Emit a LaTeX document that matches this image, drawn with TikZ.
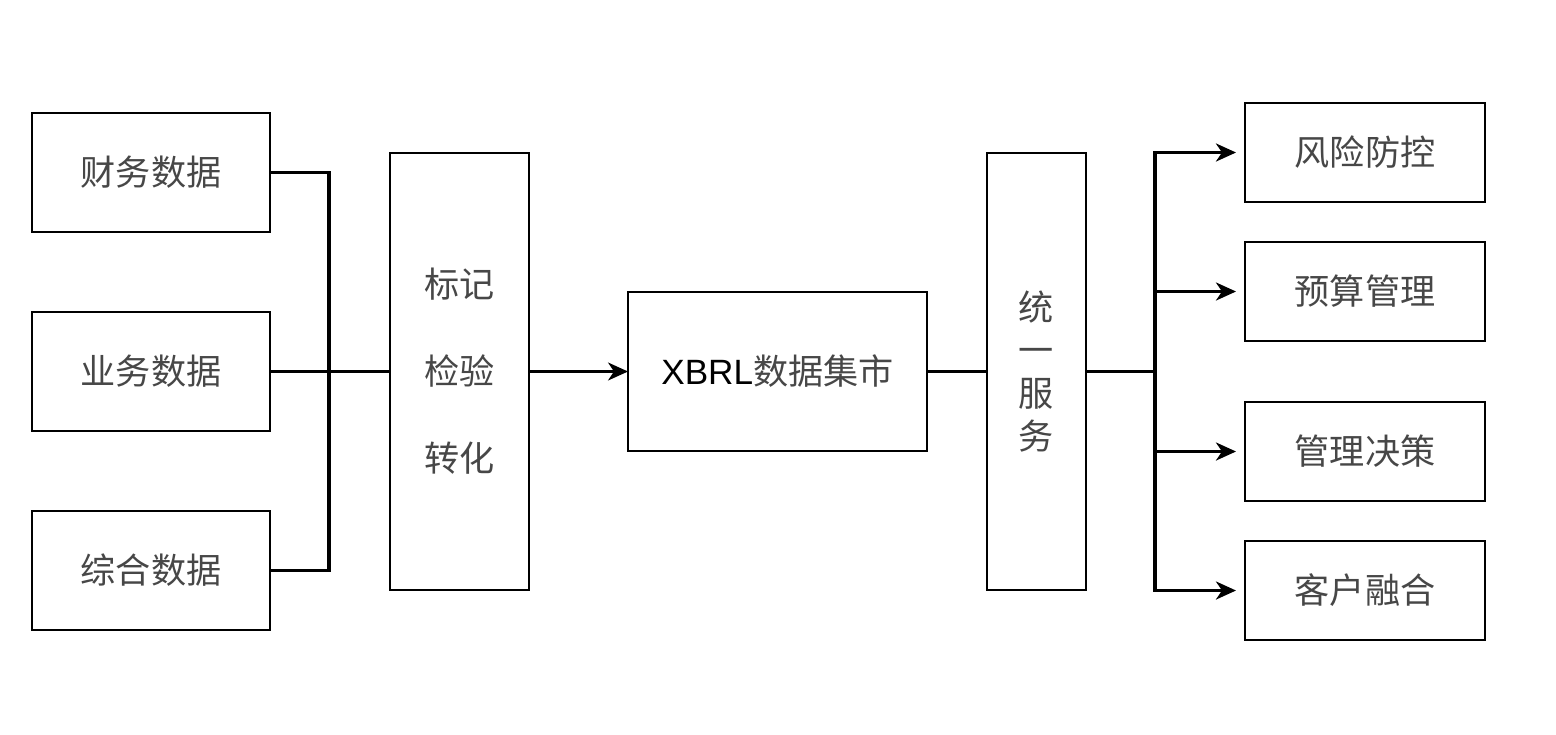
\documentclass[tikz,border=0pt]{standalone}
\usepackage{fontspec}
\setmainfont{Liberation Sans}
\newfontfamily\cjk{Noto Sans CJK SC}
\usetikzlibrary{arrows.meta,positioning}

\tikzset{
  datbox/.style={draw,line width=1.2pt,inner sep=0pt,outer sep=0pt,text=black!72,
    font=\cjk\fontsize{20}{24}\selectfont},
  srcbox/.style={datbox,minimum width=4.76cm,minimum height=2.38cm},
  appbox/.style={datbox,minimum width=4.8cm,minimum height=1.98cm},
  tallbox/.style={datbox,align=center,minimum height=8.74cm},
  thinline/.style={line width=1.2pt},
  thickline/.style={line width=1.8pt},
}

\begin{document}
\begin{tikzpicture}[>={Stealth[length=0.4cm,width=0.36cm,inset=0.12cm]},node distance=1.6cm]
\useasboundingbox (0,0) rectangle (31.12,-14.68);

% data sources
\node[srcbox] (cw) at (3.02,-3.45) {财务数据};
\node[srcbox] (yw) [below=of cw] {业务数据};
\node[srcbox] (zh) [below=of yw] {综合数据};

% processing
\node[tallbox,minimum width=2.78cm,font=\cjk\fontsize{20}{49.5}\selectfont]
  (bj) [right=2.4cm of yw] {标记\\检验\\转化};
\node[datbox,minimum width=5.98cm,minimum height=3.18cm]
  (xb) [right=1.98cm of bj] {\textcolor{black}{\rmfamily XBRL}数据集市};
\node[tallbox,minimum width=1.98cm,font=\cjk\fontsize{20}{24.5}\selectfont]
  (fw) [right=1.2cm of xb] {统\\一\\服\\务};

% applications
\node[appbox] (ys) [right=3.18cm of fw,yshift=1.6cm]  {预算管理};
\node[appbox] (fx) [above=0.8cm of ys] {风险防控};
\node[appbox] (gl) [right=3.18cm of fw,yshift=-1.6cm] {管理决策};
\node[appbox] (kh) [below=0.8cm of gl] {客户融合};

\coordinate[right=1.18cm of yw.east] (jl);
\coordinate[right=1.38cm of fw.east] (jr);

\draw[thickline] (cw.east) -| (jl) |- (zh.east);
\draw[thinline] (yw.east) -- (jl);
\draw[thickline] (jl) -- (bj.west);
\draw[thinline,->] (bj) -- (xb);
\draw[thinline] (xb) -- (fw);
\draw[thickline] (fw.east) -- (jr);

\path[thickline,->,shorten >=0.18cm]
  (jr) edge[to path={|- (\tikztotarget)}] (fx.west)
       edge[to path={|- (\tikztotarget)}] (ys.west)
       edge[to path={|- (\tikztotarget)}] (gl.west)
       edge[to path={|- (\tikztotarget)}] (kh.west);

\end{tikzpicture}
\end{document}
